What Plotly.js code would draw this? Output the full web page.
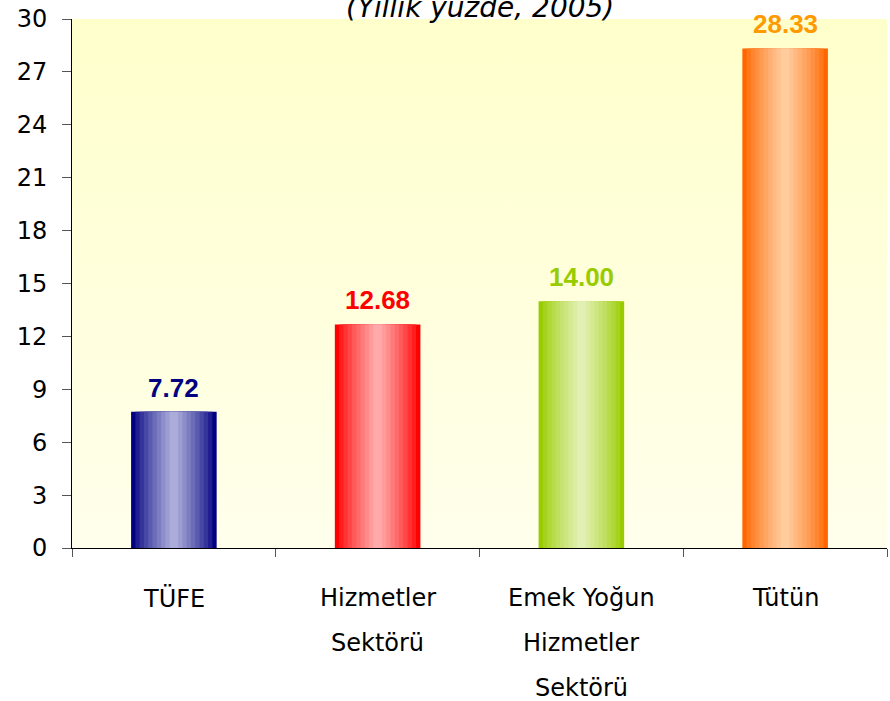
<!DOCTYPE html>
<html>
<head>
<meta charset="utf-8">
<script src="https://cdn.plot.ly/plotly-3.0.1.min.js"></script>
<style>html,body{margin:0;padding:0;background:#fff;}#chart{width:890px;height:701px;}</style>
</head>
<body>
<div id="chart"></div>
<script>
// ---- data ----
const categories = ["TÜFE", "Hizmetler<br>Sektörü", "Emek Yoğun<br>Hizmetler<br>Sektörü", "Tütün"];
const values = [7.72, 12.68, 14.00, 28.33];
const valueLabels = ["7.72", "12.68", "14.00", "28.33"];
const subtitle = "(Yıllık yüzde, 2005)";

// ---- styles ----
const edgeColors = ["#000080", "#FF0000", "#99CC00", "#FF6600"];
const centerColors = ["#ACACDA", "#FFAAAA", "#E2F0B4", "#FFCC9E"];
const labelColors = ["#000080", "#FF0000", "#99CC00", "#FF9900"];
const barWidth = 0.42;
const layers = 10;

function hex2rgb(h){return [parseInt(h.substr(1,2),16),parseInt(h.substr(3,2),16),parseInt(h.substr(5,2),16)];}
function mix(a,b,t){const A=hex2rgb(a),B=hex2rgb(b);return 'rgb('+A.map((v,i)=>Math.round(v+(B[i]-v)*t)).join(',')+')';}

const traces = [];
for (let i = 0; i < layers; i++) {
  const t = Math.pow(i / (layers - 1), 0.8);
  traces.push({
    type: 'bar',
    x: categories,
    y: values,
    width: categories.map(() => barWidth * (1 - i / layers)),
    marker: { color: categories.map((c, k) => mix(edgeColors[k], centerColors[k], t)), line: { width: 0 } },
    hoverinfo: 'skip',
    showlegend: false
  });
}

const annotations = [];
categories.forEach((c, k) => {
  annotations.push({
    x: c, y: values[k], xref: 'x', yref: 'y',
    text: '<b>' + valueLabels[k] + '</b>', showarrow: false,
    yanchor: 'bottom', yshift: 7,
    font: { family: 'Liberation Sans, Arial, sans-serif', size: 26, color: labelColors[k] }
  });
  c.split('<br>').forEach((line, j) => {
    annotations.push({
      x: c, y: 0, xref: 'x', yref: 'paper',
      text: line, showarrow: false, yanchor: 'middle', yshift: -50 - 45 * j,
      font: { family: 'DejaVu Sans, Verdana, sans-serif', size: 24, color: '#000' }
    });
  });
});
annotations.push({
  x: 0.5, y: 1, xref: 'paper', yref: 'paper', text: '<i>' + subtitle + '</i>',
  showarrow: false, yanchor: 'bottom', yshift: -7,
  font: { family: 'DejaVu Sans, Verdana, sans-serif', size: 28, color: '#000' }
});

const bgSvg = "<svg xmlns='http://www.w3.org/2000/svg' width='100' height='100' preserveAspectRatio='none'><defs><linearGradient id='g' x1='0' y1='0' x2='0' y2='1'><stop offset='0' stop-color='#FFFFCC'/><stop offset='1' stop-color='#FFFFEC'/></linearGradient></defs><rect width='100' height='100' fill='url(#g)'/></svg>";

const layout = {
  width: 890, height: 701,
  margin: { l: 72, r: 3, t: 19, b: 153 },
  paper_bgcolor: '#FFFFFF',
  plot_bgcolor: 'rgba(0,0,0,0)',
  barmode: 'overlay',
  showlegend: false,
  images: [{
    source: 'data:image/svg+xml;charset=utf-8,' + encodeURIComponent(bgSvg),
    xref: 'paper', yref: 'paper', x: 0, y: 1, sizex: 1, sizey: 1,
    sizing: 'stretch', layer: 'below', xanchor: 'left', yanchor: 'top'
  }],
  xaxis: {
    type: 'category', range: [-0.5, 3.5], tickson: 'boundaries',
    ticks: 'outside', ticklen: 8, tickcolor: '#555', tickwidth: 1,
    showline: true, linecolor: '#000', linewidth: 1,
    showgrid: false, showticklabels: false, fixedrange: true
  },
  yaxis: {
    range: [0, 30], dtick: 3, tick0: 0,
    ticks: 'outside', ticklen: 9, tickcolor: '#555', tickwidth: 1,
    showline: true, linecolor: '#000', linewidth: 1,
    showgrid: false, zeroline: false, ticklabelstandoff: 10,
    tickfont: { family: 'DejaVu Sans, Verdana, sans-serif', size: 24, color: '#000' }
  },
  annotations: annotations
};

Plotly.newPlot('chart', traces, layout, { displayModeBar: false, staticPlot: true });
</script>
</body>
</html>
